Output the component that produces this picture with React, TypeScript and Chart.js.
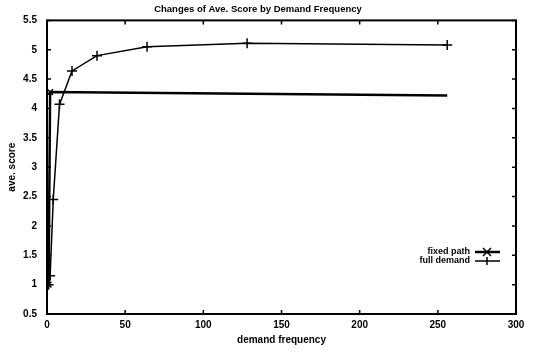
import React, { useEffect, useRef } from "react";
import { Chart, registerables } from "chart.js";

Chart.register(...registerables);

const titleText = "Changes of Ave. Score by Demand Frequency";
const xTitle = "demand frequency";
const yTitle = "ave. score";
const seriesNames = ["fixed path", "full demand"];

const fullFreq = [1, 2, 4, 8, 16, 32, 64, 128, 256];
const fullScore = [1.0, 1.15, 2.45, 4.07, 4.64, 4.9, 5.05, 5.11, 5.08];

const fixedFreq = [1, 2, 256];
const fixedScore = [1.0, 4.28, 4.22];

const xTicks = [0, 50, 100, 150, 200, 250, 300];
const yTicks = [0.5, 1, 1.5, 2, 2.5, 3, 3.5, 4, 4.5, 5, 5.5];

const FONT = "'Liberation Sans', Arial, sans-serif";

const framePlugin = {
  id: "frame",
  afterDraw(chart: any) {
    const { ctx, chartArea } = chart;
    const xs = chart.scales.x;
    const ys = chart.scales.y;
    ctx.save();
    ctx.strokeStyle = "#000";
    ctx.lineWidth = 2;
    ctx.strokeRect(chartArea.left, chartArea.top, chartArea.right - chartArea.left, chartArea.bottom - chartArea.top);
    ctx.lineWidth = 1.5;
    const L = 4;
    ctx.beginPath();
    xTicks.forEach((v) => {
      const px = xs.getPixelForValue(v);
      ctx.moveTo(px, chartArea.bottom);
      ctx.lineTo(px, chartArea.bottom - L);
      ctx.moveTo(px, chartArea.top);
      ctx.lineTo(px, chartArea.top + L);
    });
    yTicks.forEach((v) => {
      const py = ys.getPixelForValue(v);
      ctx.moveTo(chartArea.left, py);
      ctx.lineTo(chartArea.left + L, py);
      ctx.moveTo(chartArea.right, py);
      ctx.lineTo(chartArea.right - L, py);
    });
    ctx.stroke();

    // legend
    ctx.font = `bold 9px ${FONT}`;
    ctx.fillStyle = "#000";
    ctx.textAlign = "right";
    ctx.textBaseline = "middle";
    const tx = 470;
    const rows = [252, 261];
    rows.forEach((y, i) => {
      ctx.fillText(seriesNames[i], tx, y);
      ctx.beginPath();
      ctx.lineWidth = i === 0 ? 2.5 : 1.5;
      ctx.moveTo(475, y);
      ctx.lineTo(500, y);
      ctx.stroke();
      const cx = 487;
      const r = 4;
      ctx.lineWidth = 1.5;
      ctx.beginPath();
      if (i === 0) {
        ctx.moveTo(cx - r, y - r);
        ctx.lineTo(cx + r, y + r);
        ctx.moveTo(cx - r, y + r);
        ctx.lineTo(cx + r, y - r);
      } else {
        ctx.moveTo(cx, y - r);
        ctx.lineTo(cx, y + r);
      }
      ctx.stroke();
    });
    ctx.restore();
  },
};

export default function App() {
  const ref = useRef<HTMLCanvasElement | null>(null);
  useEffect(() => {
    document.body.style.margin = "0";
    const chart = new Chart(ref.current as HTMLCanvasElement, {
      type: "line",
      data: {
        datasets: [
          {
            label: seriesNames[0],
            data: fixedFreq.map((x, i) => ({ x, y: fixedScore[i] })),
            borderColor: "#000",
            borderWidth: 2.5,
            pointStyle: "crossRot",
            pointRadius: [4, 4, 0],
            pointBorderColor: "#000",
            pointBorderWidth: 1.5,
            tension: 0,
          },
          {
            label: seriesNames[1],
            data: fullFreq.map((x, i) => ({ x, y: fullScore[i] })),
            borderColor: "#000",
            borderWidth: 1.5,
            pointStyle: "cross",
            pointRadius: 5,
            pointBorderColor: "#000",
            pointBorderWidth: 1.5,
            tension: 0,
          },
        ],
      },
      options: {
        responsive: false,
        animation: false,
        layout: { padding: { left: 0, right: 19, top: 0, bottom: 0 } },
        plugins: {
          legend: { display: false },
          tooltip: { enabled: false },
          title: {
            display: true,
            text: titleText,
            color: "#000",
            font: { family: FONT, size: 9.5, weight: "bold" },
            padding: { top: 4, bottom: 5 },
          },
        },
        scales: {
          x: {
            type: "linear",
            min: 0,
            max: 300,
            afterBuildTicks: (s: any) => {
              s.ticks = xTicks.map((v) => ({ value: v }));
            },
            afterFit: (s: any) => {
              s.height = 39;
            },
            grid: { display: false, drawTicks: false },
            border: { display: false },
            ticks: {
              color: "#000",
              font: { family: FONT, size: 10, weight: "bold" },
              padding: 5,
              maxRotation: 0,
              callback: (v: any) => String(v),
            },
            title: {
              display: true,
              text: xTitle,
              color: "#000",
              font: { family: FONT, size: 10, weight: "bold" },
              padding: { top: 2, bottom: 7 },
            },
          },
          y: {
            type: "linear",
            min: 0.5,
            max: 5.5,
            afterBuildTicks: (s: any) => {
              s.ticks = yTicks.map((v) => ({ value: v }));
            },
            afterFit: (s: any) => {
              s.width = 47;
            },
            grid: { display: false, drawTicks: false },
            border: { display: false },
            ticks: {
              color: "#000",
              font: { family: FONT, size: 10, weight: "bold" },
              padding: 10,
              callback: (v: any) => String(v),
            },
            title: {
              display: true,
              text: yTitle,
              color: "#000",
              font: { family: FONT, size: 10, weight: "bold" },
              padding: { top: 6, bottom: 0 },
            },
          },
        },
      },
      plugins: [framePlugin],
    } as any);
    return () => chart.destroy();
  }, []);
  return <canvas ref={ref} width={535} height={353} style={{ display: "block", background: "#fff" }} />;
}
